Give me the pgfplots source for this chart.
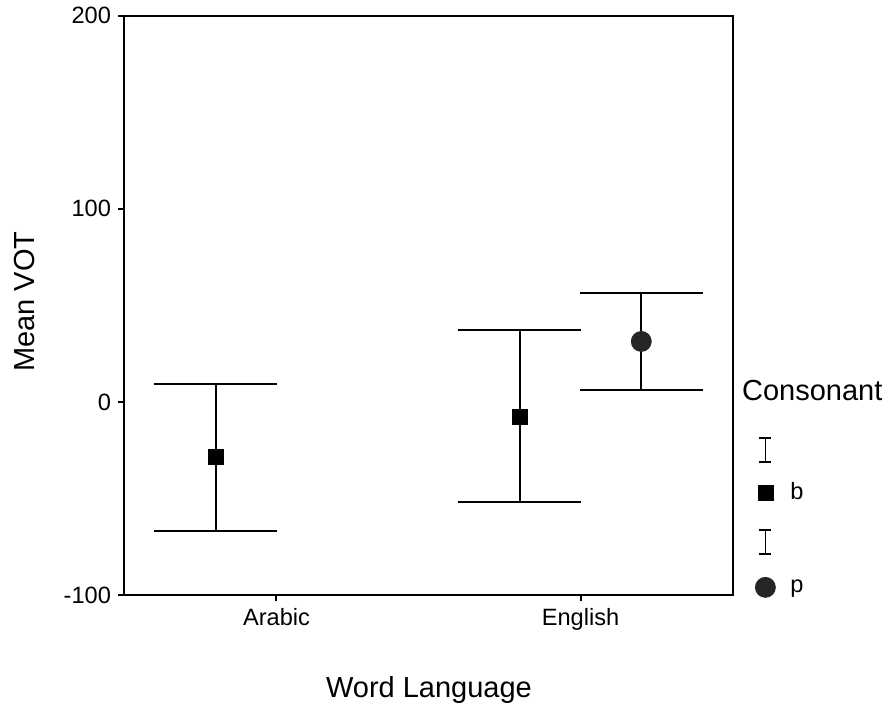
\documentclass[border=0pt]{standalone}
\usepackage{pgfplots}
\pgfplotsset{compat=1.18}
\usepackage{fontspec}
\setmainfont{Liberation Sans}

\begin{document}
\begin{tikzpicture}
\path[use as bounding box] (-62.25pt,-54.5pt) rectangle (381.25pt,297.5pt);
\begin{axis}[
    name=ax,
    scale only axis,
    width=304pt, height=289.65pt,
    xmin=0.5, xmax=2.5,
    ymin=-100, ymax=200,
    xtick={1,2}, xticklabels={Arabic,English},
    ytick={-100,0,100,200},
    xtick pos=bottom, ytick pos=left,
    tick align=outside,
    major tick length=3.25pt,
    every tick/.style={black, line width=1pt},
    axis line style={line width=1pt},
    /pgf/number format/assume math mode=true,
    tick label style={font=\fontsize{11.8}{13}\selectfont},
    xlabel={Word Language},
    ylabel={Mean VOT},
    every axis x label/.style={at={(axis description cs:0.5008,-0.1766)}, anchor=base,
        font=\fontsize{14.5}{16}\selectfont},
    every axis y label/.style={at={(axis description cs:-0.1472,0.5063)}, anchor=base, rotate=90,
        font=\fontsize{14.5}{16}\selectfont},
    legend style={at={(axis description cs:1.037,0.2727)}, anchor=north west,
        draw=none, fill=none, inner sep=0pt, outer sep=0pt,
        row sep=8pt, column sep=5.25pt,
        font=\fontsize{11.8}{13}\selectfont,
        cells={anchor=west, inner sep=0pt}},
    clip=false,
]
% b: Arabic, English
\addplot[forget plot, only marks, black, mark=square*, mark size=3.75pt,
    error bars/.cd, y dir=both, y explicit,
    error bar style={line width=1pt, black},
    error mark=|, error mark options={mark size=30.75pt, line width=1pt, black}]
  coordinates {
    (0.8,-28.7) += (0,38.0) -= (0,38.0)
    (1.8,-7.6)  += (0,45.0) -= (0,44.1)
  };
% p: English
\addplot[forget plot, only marks, black, mark=*, mark size=5pt,
    mark options={fill=black!85, draw=black!85},
    error bars/.cd, y dir=both, y explicit,
    error bar style={line width=1pt, black},
    error mark=|, error mark options={mark size=30.75pt, line width=1pt, black}]
  coordinates {
    (2.2,31.3) += (0,25.1) -= (0,24.9)
  };

\addlegendimage{legend image code/.code={
    \draw[line width=0.75pt] (0,-6pt) -- (0,6pt) (-3pt,-6pt) -- (3pt,-6pt) (-3pt,6pt) -- (3pt,6pt);}}
\addlegendentry{}
\addlegendimage{legend image code/.code={
    \fill[black] (-3.75pt,-3.75pt) rectangle (3.75pt,3.75pt);
    \path (0,-10.25pt);}}
\addlegendentry{b}
\addlegendimage{legend image code/.code={
    \draw[line width=0.75pt] (0,-6pt) -- (0,6pt) (-3pt,-6pt) -- (3pt,-6pt) (-3pt,6pt) -- (3pt,6pt);}}
\addlegendentry{}
\addlegendimage{legend image code/.code={
    \fill[black!85] (0,0) circle (5pt);
    \path (0,8pt);}}
\addlegendentry{p}

\node[anchor=base west, inner sep=0pt, font=\fontsize{14.5}{16}\selectfont]
    at (axis description cs:1.0151,0.3366) {Consonant};
\end{axis}
\end{tikzpicture}
\end{document}
